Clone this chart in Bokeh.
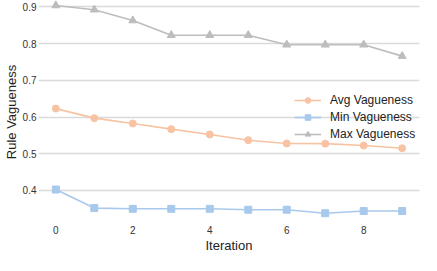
from bokeh.plotting import figure
from bokeh.models import FixedTicker, Range1d, Legend, LegendItem
from bokeh.embed import file_html
from bokeh.resources import INLINE

iterations = [0, 1, 2, 3, 4, 5, 6, 7, 8, 9]
avg_vagueness = [0.623, 0.597, 0.5825, 0.567, 0.5525, 0.537, 0.528, 0.5275, 0.5225, 0.515]
min_vagueness = [0.4025, 0.352, 0.350, 0.350, 0.350, 0.3475, 0.3475, 0.338, 0.344, 0.344]
max_vagueness = [0.904, 0.8925, 0.863, 0.823, 0.823, 0.823, 0.797, 0.797, 0.797, 0.766]
x_ticks = [0, 2, 4, 6, 8]
y_ticks = [0.4, 0.5, 0.6, 0.7, 0.8, 0.9]

FONT = "Liberation Sans"
c_avg = "#F7C3A2"
c_min = "#A8C9EC"
c_max = "#BDBDBD"

p = figure(width=421, height=255, output_backend="svg", toolbar_location=None,
           x_range=Range1d(-0.45, 9.45), y_range=Range1d(0.31, 0.9175),
           min_border_left=0, min_border_right=2, min_border_top=0, min_border_bottom=0)
p.outline_line_color = None
p.background_fill_color = "white"
p.border_fill_color = "white"

p.xgrid.grid_line_color = None
p.ygrid.grid_line_color = "#DADADA"
p.ygrid.grid_line_width = 1.3

for ax in (p.xaxis, p.yaxis):
    ax.axis_line_color = None
    ax.major_tick_line_color = None
    ax.minor_tick_line_color = None
    ax.major_tick_out = 0
    ax.major_tick_in = 0
    ax.minor_tick_out = 0
    ax.major_label_text_font = FONT
    ax.major_label_text_font_size = "10px"
    ax.major_label_text_color = "#333333"
    ax.axis_label_text_font = FONT
    ax.axis_label_text_font_size = "13px"
    ax.axis_label_text_font_style = "normal"
    ax.axis_label_text_color = "#222222"
    ax.major_label_standoff = 2
    ax.axis_label_standoff = 1

p.xaxis.ticker = FixedTicker(ticks=x_ticks)
p.yaxis.ticker = FixedTicker(ticks=y_ticks)
p.xaxis.axis_label = "Iteration"
p.yaxis.axis_label = "Rule Vagueness"

l_avg = p.line(iterations, avg_vagueness, line_color=c_avg, line_width=1.6)
m_avg = p.scatter(iterations, avg_vagueness, marker="circle", size=7, fill_color=c_avg, line_color=c_avg)
l_min = p.line(iterations, min_vagueness, line_color=c_min, line_width=1.6)
m_min = p.scatter(iterations, min_vagueness, marker="square", size=7, fill_color=c_min, line_color=c_min)
l_max = p.line(iterations, max_vagueness, line_color=c_max, line_width=1.6)
m_max = p.scatter(iterations, max_vagueness, marker="triangle", size=8, fill_color=c_max, line_color=c_max)

legend = Legend(items=[
    LegendItem(label="Avg Vagueness", renderers=[l_avg, m_avg]),
    LegendItem(label="Min Vagueness", renderers=[l_min, m_min]),
    LegendItem(label="Max Vagueness", renderers=[l_max, m_max]),
], location=(256, 82))
legend.background_fill_alpha = 0
legend.border_line_color = None
legend.label_text_font = FONT
legend.label_text_font_size = "12px"
legend.label_text_color = "#222222"
legend.glyph_width = 27
legend.glyph_height = 14
legend.label_height = 14
legend.label_standoff = 9
legend.spacing = 3
legend.padding = 0
legend.margin = 0
p.add_layout(legend)

open("out.html", "w").write(file_html(p, INLINE))
